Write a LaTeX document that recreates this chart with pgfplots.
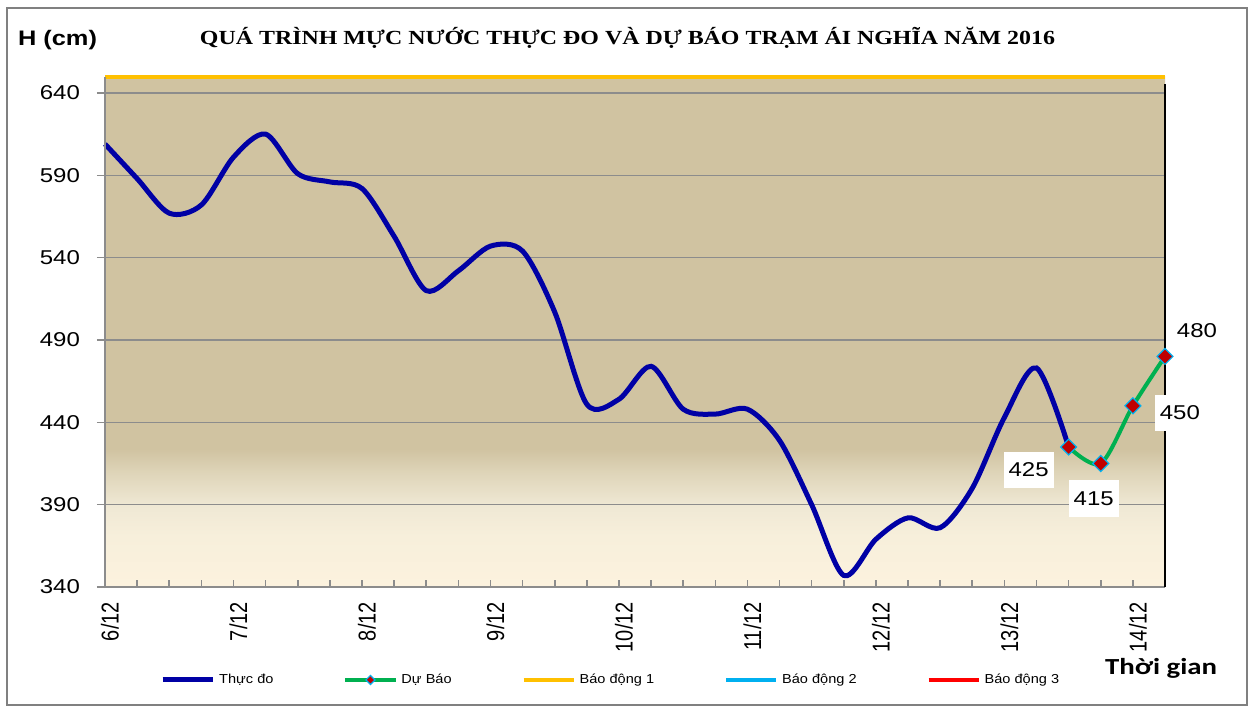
\documentclass[border=0pt]{standalone}
\usepackage{pgfplots}
\pgfplotsset{compat=1.18}
\usepackage{fontspec}
\usepackage{graphicx}
\setmainfont{Liberation Sans}
\newfontfamily\titlefont{Liberation Serif}
\newfontfamily\carlito{Carlito}

\definecolor{bgT}{RGB}{208,195,161}
\definecolor{bgT2}{RGB}{222,212,184}
\definecolor{bgM}{RGB}{239,232,212}
\definecolor{bgC}{RGB}{247,239,219}
\definecolor{bgB}{RGB}{252,242,222}
\definecolor{gridgray}{RGB}{140,140,140}
\definecolor{obsblue}{RGB}{0,0,165}
\definecolor{fcgreen}{RGB}{0,176,80}
\definecolor{mkred}{RGB}{192,0,0}
\definecolor{mkcyan}{RGB}{0,176,240}
\definecolor{bd1}{RGB}{255,192,0}
\definecolor{bd2}{RGB}{0,176,240}
\definecolor{bd3}{RGB}{255,0,0}

\pgfdeclareverticalshading{plotbg}{100bp}{color(0bp)=(bgB); color(25bp)=(bgB); color(30bp)=(bgC); color(33bp)=(bgM); color(36.3bp)=(bgT2); color(38.5bp)=(bgT); color(100bp)=(bgT)}

\newcommand{\xl}[1]{\scalebox{1}[1.22]{#1}}
\newcommand{\sx}[1]{\scalebox{1.2}[1]{#1}}
\newcommand{\lx}[1]{\scalebox{1.12}[1]{#1}}

\begin{document}
\begin{tikzpicture}
\useasboundingbox (0,0) rectangle (626pt,354pt);
\fill[white] (0,0) rectangle (626pt,354pt);
\draw[gray, line width=0.8pt] (3.5pt,1.5pt) rectangle (623.5pt,350pt);
\begin{axis}[
  at={(52.5pt,60.5pt)}, anchor=south west,
  scale only axis, width=530pt, height=255.25pt,
  xmin=0, xmax=33, ymin=340, ymax=650,
  clip=false,
  axis line style={draw=none},
  axis background/.style={shading=plotbg},
  ytick={340,390,...,640},
  ymajorgrids, grid style={draw=gridgray, line width=0.8pt},
  xtick={0,4,...,32},
  xticklabels={\xl{6/12},\xl{7/12},\xl{8/12},\xl{9/12},\xl{10/12},\xl{11/12},\xl{12/12},\xl{13/12},\xl{14/12}},
  minor xtick={1,...,33},
  xtick pos=bottom, ytick pos=left,
  tick align=outside,
  major tick length=4pt, minor tick length=3.5pt,
  xtick style={draw=gridgray, line width=0.8pt, yshift=3.5pt},
  ytick style={draw=gridgray, line width=0.8pt},
  yticklabel={\sx{\pgfmathprintnumber[assume math mode=true]{\tick}}},
  yticklabel style={font=\fontsize{10}{12}\selectfont, xshift=-5pt},
  xticklabel style={rotate=90, anchor=east, font=\fontsize{10}{12}\selectfont, yshift=-2.5pt},
  legend columns=5,
  legend style={at={(0.478,-0.182)}, anchor=center, draw=none, fill=none,
    font=\fontsize{6.5}{8}\selectfont,
    /tikz/every even column/.append style={column sep=33pt}},
  legend image code/.code={\draw[mark repeat=2, mark phase=2, #1, mark size=1.6pt] plot coordinates {(0pt,0pt) (12.5pt,0pt) (25pt,0pt)};},
]
% Observed
\addplot[obsblue, line width=2.5pt, smooth, mark=none] coordinates {
(0,609) (1,588) (2,567) (3,572) (4,601) (5,615) (6,591) (7,586) (8,582) (9,553)
(10,520) (11,532) (12,547) (13,544) (14,507) (15,451) (16,454) (17,474) (18,448) (19,445)
(20,448) (21,429) (22,390) (23,347) (24,369) (25,382) (26,376) (27,400) (28,443) (29,473)
(30,425)};
\addlegendentry{\lx{Thực đo}}
% Forecast
\addplot[fcgreen, line width=2pt, smooth, mark=square*, mark size=2.8pt,
  mark options={rotate=45, fill=mkred, draw=mkcyan, line width=0.6pt, solid}] coordinates {
(30,425) (31,415) (32,450) (33,480)};
\addlegendentry{\lx{Dự Báo}}
% Alarm 1
\addplot[bd1, line width=2pt, mark=none] coordinates {(0,650) (33,650)};
\addlegendentry{\lx{Báo động 1}}
\addlegendimage{bd2, line width=2pt}
\addlegendentry{\lx{Báo động 2}}
\addlegendimage{bd3, line width=2pt}
\addlegendentry{\lx{Báo động 3}}
% axis lines
\draw[gridgray, line width=1pt] (rel axis cs:0,0) -- (rel axis cs:0,1);
\draw[gridgray, line width=1pt] (rel axis cs:0,0) -- (rel axis cs:1,0);
\draw[black, line width=1pt] (rel axis cs:1,0) -- (rel axis cs:1,0.985);
% data labels
\pgfplotsset{lbl/.style={draw=none, mark=none, forget plot, nodes near coords,
  point meta=explicit symbolic,
  every node near coord/.append style={anchor=center, fill=white, inner xsep=2.5pt, inner ysep=3pt, minimum height=18pt, font=\fontsize{10}{12}\selectfont}}}
\addplot[lbl, every node near coord/.append style={xshift=-20pt, yshift=-11.5pt}] coordinates {(30,425) [\sx{425}]};
\addplot[lbl, every node near coord/.append style={xshift=-3.5pt, yshift=-17.5pt}] coordinates {(31,415) [\sx{415}]};
\addplot[lbl, every node near coord/.append style={xshift=23.5pt, yshift=-3.5pt}] coordinates {(32,450) [\sx{450}]};
\addplot[lbl, every node near coord/.append style={xshift=16pt, yshift=13pt, fill=none}] coordinates {(33,480) [\sx{480}]};
\end{axis}
\node at (28.75pt,334pt) {\resizebox{39.5pt}{\height}{\bfseries\fontsize{10.5}{12}\selectfont H (cm)}};
\node at (313.75pt,335pt) {\resizebox{427.5pt}{\height}{\titlefont\bfseries\fontsize{10}{12}\selectfont QUÁ TRÌNH MỰC NƯỚC THỰC ĐO VÀ DỰ BÁO TRẠM ÁI NGHĨA NĂM 2016}};
\node at (580.5pt,20pt) {\resizebox{56pt}{\height}{\carlito\bfseries\fontsize{11.5}{13}\selectfont Thời gian}};
\end{tikzpicture}
\end{document}
